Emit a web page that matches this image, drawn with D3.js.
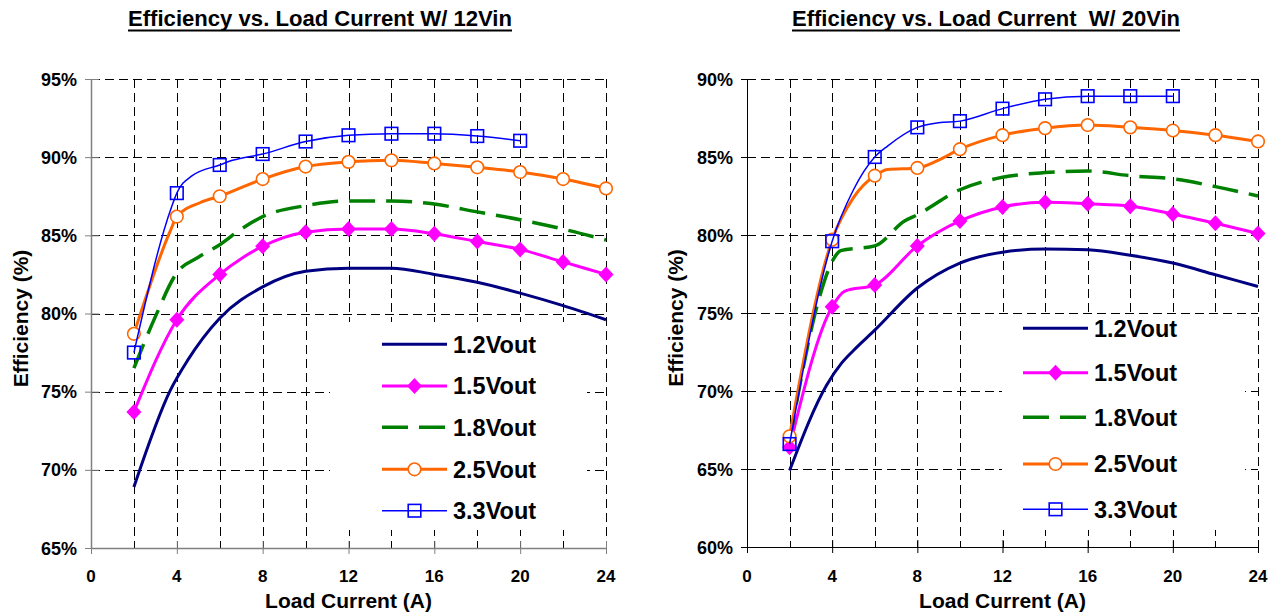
<html>
  <head>
    <script src="https://cdn.jsdelivr.net/npm/d3@7"></script>
    <style>
      body { margin: 0; background: #fff; }
      svg text { font-family: "Liberation Sans", Arial, sans-serif; font-weight: bold; fill: #000; white-space: pre; }
    </style>
  </head>
  <body>
    <script>
      // ---- data ----
      const vouts = ["1.2Vout", "1.5Vout", "1.8Vout", "2.5Vout", "3.3Vout"];
      const xTicks = [0, 4, 8, 12, 16, 20, 24];
      const xGrid = [2, 4, 6, 8, 10, 12, 14, 16, 18, 20, 22, 24];
      const yTicks12 = [65, 70, 75, 80, 85, 90, 95];
      const yTicks20 = [60, 65, 70, 75, 80, 85, 90];

      // 12Vin  [load current A, efficiency %]
      const vin12_1v2 = [[2, 68.9], [3.7, 75.1], [4.5, 77.0], [6, 79.7], [8, 81.7], [10, 82.7], [12, 82.9], [14, 82.9], [16, 82.5], [18, 82.0], [20, 81.3], [22, 80.5], [24, 79.6]];
      const vin12_1v5 = [[2, 73.7], [4, 79.6], [6, 82.5], [7.1, 83.6], [8, 84.3], [10, 85.2], [12, 85.4], [14, 85.4], [16, 85.1], [18, 84.6], [20, 84.1], [22, 83.3], [24, 82.5]];
      const vin12_1v8 = [[2, 76.5], [3, 79.8], [4, 82.6], [5, 83.6], [6, 84.4], [7, 85.4], [8, 86.2], [10, 86.9], [12, 87.2], [14, 87.2], [16, 87.0], [18, 86.5], [20, 86.0], [22, 85.4], [24, 84.7]];
      const vin12_2v5 = [[2, 78.7], [3.7, 85.3], [4, 86.2], [5.1, 87.1], [6, 87.5], [8, 88.6], [10, 89.4], [12, 89.7], [14, 89.8], [16, 89.6], [18, 89.35], [20, 89.05], [22, 88.6], [24, 88.0]];
      const vin12_3v3 = [[2, 77.5], [3.75, 86.8], [4, 87.7], [4.7, 88.8], [6, 89.5], [6.6, 89.8], [8, 90.2], [10, 91.0], [12, 91.4], [14, 91.5], [16, 91.5], [18, 91.35], [20, 91.05]];

      // 20Vin
      const vin20_1v2 = [[2, 64.9], [3.75, 70.4], [4.45, 71.8], [5, 72.6], [6, 73.9], [8, 76.6], [10, 78.2], [12, 78.9], [14, 79.1], [16, 79.05], [18, 78.7], [20, 78.2], [22, 77.45], [24, 76.7]];
      const vin20_1v5 = [[2, 66.4], [4, 75.4], [4.6, 76.4], [6, 76.8], [8, 79.3], [10, 80.9], [12, 81.8], [14, 82.1], [16, 82.0], [18, 81.85], [20, 81.35], [22, 80.75], [24, 80.1]];
      const vin20_1v8 = [[2, 66.8], [3.4, 76.0], [4, 78.3], [4.4, 79.0], [6, 79.3], [7.4, 80.9], [8, 81.3], [10, 82.9], [12, 83.7], [14, 84.0], [16, 84.1], [18, 83.8], [20, 83.6], [22, 83.1], [24, 82.5]];
      const vin20_2v5 = [[2, 67.1], [4, 79.7], [5, 82.4], [6, 83.8], [6.6, 84.2], [8, 84.3], [9, 84.8], [10, 85.5], [12, 86.4], [14, 86.85], [16, 87.05], [18, 86.9], [20, 86.7], [22, 86.4], [24, 86.0]];
      const vin20_3v3 = [[2, 66.6], [4, 79.6], [5, 82.9], [6, 85.0], [6.6, 85.7], [8, 86.9], [9, 87.2], [10, 87.3], [12, 88.1], [14, 88.7], [16, 88.9], [18, 88.9], [20, 88.9]];

      // ---- styles ----
      const styles = [
        { color: "#000080", width: 3, dash: null, marker: null },
        { color: "#FF00FF", width: 3, dash: null, marker: "diamond" },
        { color: "#008000", width: 3.5, dash: "26,11", marker: null },
        { color: "#FF6600", width: 3, dash: null, marker: "circle" },
        { color: "#0000FF", width: 1.5, dash: null, marker: "square" }
      ];

      const svg = d3.select("body").append("svg")
          .attr("width", 1288)
          .attr("height", 615);

      function drawMarker(g, type, color, cx, cy) {
        if (type === "diamond") {
          g.append("path")
            .attr("d", `M${cx},${cy - 8}L${cx + 7.5},${cy}L${cx},${cy + 8}L${cx - 7.5},${cy}Z`)
            .attr("fill", color);
        } else if (type === "circle") {
          g.append("circle").attr("cx", cx).attr("cy", cy).attr("r", 6.3)
            .attr("fill", "#fff").attr("stroke", color).attr("stroke-width", 1.6);
        } else if (type === "square") {
          g.append("rect").attr("x", cx - 6.3).attr("y", cy - 6.3)
            .attr("width", 12.6).attr("height", 12.6)
            .attr("fill", "none").attr("stroke", color).attr("stroke-width", 1.6);
        }
      }

      function drawChart(cfg) {
        const x = d3.scaleLinear().domain([0, 24]).range([cfg.x0, cfg.x1]);
        const y = d3.scaleLinear().domain(cfg.yDomain).range([cfg.yBottom, cfg.yTop]);
        const g = svg.append("g");

        // title
        const cx = (cfg.titleX0 + cfg.titleX1) / 2;
        g.append("text")
          .attr("x", cx).attr("y", 26)
          .attr("text-anchor", "middle")
          .attr("textLength", cfg.titleX1 - cfg.titleX0)
          .attr("lengthAdjust", "spacingAndGlyphs")
          .style("font-family", '"Liberation Sans Narrow", "Arial Narrow", "Liberation Sans", sans-serif')
          .style("font-size", "22px")
          .text(cfg.title);
        g.append("line")
          .attr("x1", cfg.titleX0).attr("x2", cfg.titleX1)
          .attr("y1", 30.5).attr("y2", 30.5)
          .attr("stroke", "#000").attr("stroke-width", 2);

        // dashed grid
        const grid = g.append("g")
          .attr("stroke", "#000").attr("stroke-width", 1)
          .attr("shape-rendering", "crispEdges")
          .attr("stroke-dasharray", "9,5").attr("fill", "none");
        cfg.yTicks.slice(1).forEach(v => {
          grid.append("line")
            .attr("x1", cfg.x0).attr("x2", cfg.x1)
            .attr("y1", Math.round(y(v)) + 0.5).attr("y2", Math.round(y(v)) + 0.5);
        });
        xGrid.forEach(v => {
          grid.append("line")
            .attr("x1", Math.round(x(v)) + 0.5).attr("x2", Math.round(x(v)) + 0.5)
            .attr("y1", cfg.yTop).attr("y2", cfg.yBottom);
        });

        // axes
        const yAxis = d3.axisLeft(y).tickValues(cfg.yTicks)
          .tickSizeInner(-8).tickSizeOuter(0).tickFormat(() => "");
        const yAxisG = g.append("g").attr("transform", `translate(${cfg.x0},0)`).call(yAxis);
        yAxisG.selectAll("line").attr("x1", -6).attr("x2", 8);
        const xAxis = d3.axisBottom(x).tickValues(xTicks)
          .tickSizeOuter(0).tickFormat(() => "");
        const xAxisG = g.append("g").attr("transform", `translate(0,${cfg.yBottom})`).call(xAxis);
        xAxisG.selectAll("line").attr("y1", -7).attr("y2", 6);
        [yAxisG, xAxisG].forEach(a => {
          a.select(".domain").attr("stroke", cfg.axisColor).attr("stroke-width", cfg.axisWidth);
          a.selectAll("line").attr("stroke", cfg.axisColor).attr("stroke-width", 1);
        });

        // tick labels
        cfg.yTicks.forEach(v => {
          g.append("text")
            .attr("x", cfg.x0 - 14).attr("y", y(v) + 6.5)
            .attr("text-anchor", "end")
            .style("font-size", "18px")
            .text(v + "%");
        });
        xTicks.forEach(v => {
          g.append("text")
            .attr("x", x(v)).attr("y", 582)
            .attr("text-anchor", "middle")
            .style("font-size", "17px")
            .text(v);
        });

        // axis titles
        g.append("text")
          .attr("x", (cfg.x0 + cfg.x1) / 2).attr("y", 608)
          .attr("text-anchor", "middle")
          .style("font-size", "21px")
          .text("Load Current (A)");
        g.append("text")
          .attr("transform", `translate(${cfg.yTitleX},${(cfg.yTop + cfg.yBottom) / 2 + 5}) rotate(-90)`)
          .attr("text-anchor", "middle")
          .style("font-size", "21px")
          .text("Efficiency (%)");

        // legend background (covers the grid)
        g.append("rect")
          .attr("x", cfg.legend.x0).attr("y", cfg.legend.y0)
          .attr("width", cfg.legend.x1 - cfg.legend.x0)
          .attr("height", cfg.legend.y1 - cfg.legend.y0)
          .attr("fill", "#fff");

        // series
        const line = d3.line()
          .x(d => x(d[0]))
          .y(d => y(d[1]))
          .curve(d3.curveMonotoneX);

        cfg.series.forEach((data, i) => {
          const s = styles[i];
          const sg = g.append("g");
          sg.append("path")
            .datum(data)
            .attr("fill", "none")
            .attr("stroke", s.color)
            .attr("stroke-width", s.width)
            .attr("stroke-dasharray", s.dash)
            .attr("d", line);
          if (s.marker) {
            data.filter(d => d[0] % 2 === 0)
              .forEach(d => drawMarker(sg, s.marker, s.color, x(d[0]), y(d[1])));
          }
        });

        // legend entries
        vouts.forEach((name, i) => {
          const s = styles[i];
          const ly = cfg.legend.rows[i];
          const lx0 = cfg.legend.lineX0, lx1 = cfg.legend.lineX0 + 65;
          g.append("line")
            .attr("x1", lx0).attr("x2", lx1)
            .attr("y1", ly).attr("y2", ly)
            .attr("stroke", s.color)
            .attr("stroke-width", s.width)
            .attr("stroke-dasharray", s.dash);
          if (s.marker) drawMarker(g, s.marker, s.color, (lx0 + lx1) / 2, ly);
          g.append("text")
            .attr("x", lx1 + 6).attr("y", ly + 8.3)
            .style("font-size", "23.5px")
            .text(name);
        });
      }

      drawChart({
        title: "Efficiency vs. Load Current W/ 12Vin",
        titleX0: 128, titleX1: 512,
        x0: 91, x1: 606, yTop: 79, yBottom: 548,
        yDomain: [65, 95], yTicks: yTicks12,
        yTitleX: 28,
        axisColor: "#808080", axisWidth: 1.5,
        series: [vin12_1v2, vin12_1v5, vin12_1v8, vin12_2v5, vin12_3v3],
        legend: { x0: 330, x1: 587, y0: 322, y1: 530, lineX0: 382, rows: [344.3, 386, 427.3, 469.3, 510.7] }
      });

      drawChart({
        title: "Efficiency vs. Load Current  W/ 20Vin",
        titleX0: 792, titleX1: 1180,
        x0: 747, x1: 1258, yTop: 79, yBottom: 547,
        yDomain: [60, 90], yTicks: yTicks20,
        yTitleX: 683,
        axisColor: "#000", axisWidth: 1,
        series: [vin20_1v2, vin20_1v5, vin20_1v8, vin20_2v5, vin20_3v3],
        legend: { x0: 1002, x1: 1245, y0: 317, y1: 530, lineX0: 1023, rows: [328.3, 372.7, 417.3, 464, 509.3] }
      });
    </script>
  </body>
</html>
